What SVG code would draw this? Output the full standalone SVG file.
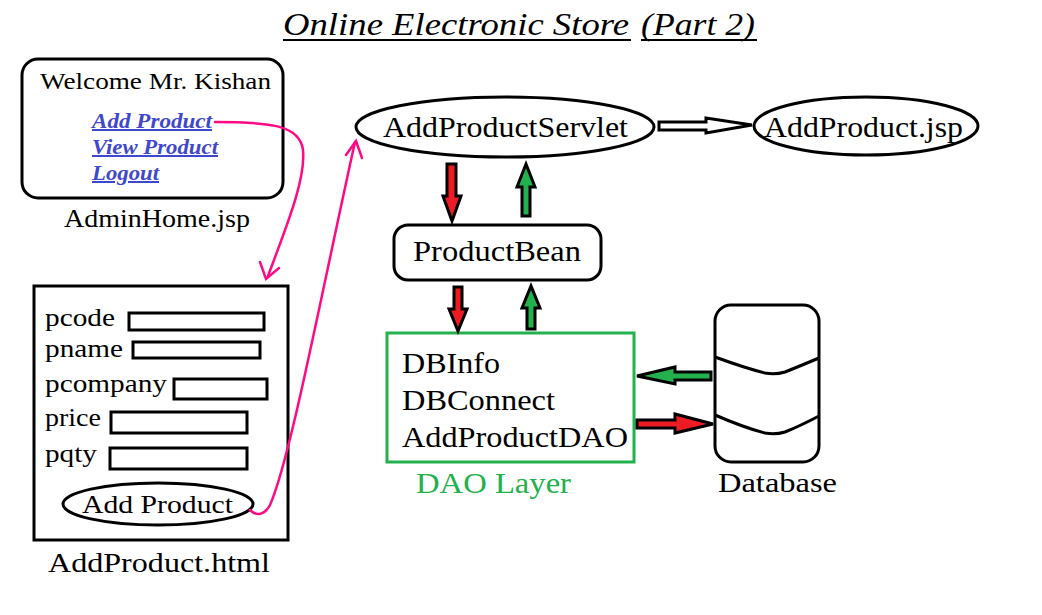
<svg xmlns="http://www.w3.org/2000/svg" width="1042" height="615" viewBox="0 0 1042 615">
<style>
text{font-family:'Liberation Serif','Times New Roman',serif;fill:#000}
.b{fill:none;stroke:#000;stroke-width:3}
.lk{font-size:20px;font-weight:bold;font-style:italic;fill:#3f48cc;text-decoration:underline}
.f{font-size:26px}
.big{font-size:29px}
.mag{fill:none;stroke:#ff0a84;stroke-width:2.5;stroke-linecap:round}
.red{fill:#ed1c24;stroke:#000;stroke-width:3;stroke-linejoin:miter}
.grn{fill:#22b14c;stroke:#000;stroke-width:3;stroke-linejoin:miter}
</style>
<rect width="1042" height="615" fill="#fff"/>
<g id="title">
<text x="283" y="35" font-size="32" font-style="italic" textLength="346" lengthAdjust="spacingAndGlyphs">Online Electronic Store</text>
<text x="641" y="35" font-size="32" font-style="italic" textLength="114" lengthAdjust="spacingAndGlyphs">(Part 2)</text>
<line x1="283" y1="40" x2="631" y2="40" stroke="#000" stroke-width="2"/>
<line x1="641" y1="40" x2="757" y2="40" stroke="#000" stroke-width="2"/>
</g>
<g id="adminhome">
<rect class="b" x="22" y="59" width="261" height="139" rx="16"/>
<text x="40" y="89" font-size="24" textLength="231" lengthAdjust="spacingAndGlyphs">Welcome Mr. Kishan</text>
<text class="lk" x="92" y="128" textLength="120" lengthAdjust="spacingAndGlyphs">Add Product</text>
<text class="lk" x="92" y="154" textLength="126" lengthAdjust="spacingAndGlyphs">View Product</text>
<text class="lk" x="92" y="180" textLength="67" lengthAdjust="spacingAndGlyphs">Logout</text>
<text x="64" y="227" font-size="26" textLength="186" lengthAdjust="spacingAndGlyphs">AdminHome.jsp</text>
</g>
<g id="addproducthtml">
<rect class="b" x="34" y="286" width="254" height="254"/>
<text class="f" x="45" y="326" textLength="70" lengthAdjust="spacingAndGlyphs">pcode</text>
<rect class="b" x="129" y="313" width="135" height="17"/>
<text class="f" x="45" y="357" textLength="78" lengthAdjust="spacingAndGlyphs">pname</text>
<rect class="b" x="133" y="342" width="127" height="16"/>
<text class="f" x="45" y="392" textLength="122" lengthAdjust="spacingAndGlyphs">pcompany</text>
<rect class="b" x="174" y="379" width="93" height="20"/>
<text class="f" x="45" y="426" textLength="56" lengthAdjust="spacingAndGlyphs">price</text>
<rect class="b" x="111" y="412" width="136" height="21"/>
<text class="f" x="45" y="462" textLength="52" lengthAdjust="spacingAndGlyphs">pqty</text>
<rect class="b" x="110" y="448" width="137" height="21"/>
<ellipse class="b" cx="158" cy="504" rx="95" ry="21"/>
<text x="82" y="513" font-size="26" textLength="151" lengthAdjust="spacingAndGlyphs">Add Product</text>
<text x="48" y="572" font-size="28" textLength="222" lengthAdjust="spacingAndGlyphs">AddProduct.html</text>
</g>
<g id="servlet">
<ellipse class="b" cx="505" cy="127" rx="149" ry="30"/>
<text x="383" y="137" class="big" textLength="245" lengthAdjust="spacingAndGlyphs">AddProductServlet</text>
</g>
<g id="addproductjsp">
<ellipse class="b" cx="866" cy="126" rx="112" ry="29"/>
<text x="764" y="137" class="big" textLength="199" lengthAdjust="spacingAndGlyphs">AddProduct.jsp</text>
</g>
<g id="productbean">
<rect class="b" x="394" y="225" width="207" height="55" rx="14"/>
<text x="413" y="261" class="big" textLength="168" lengthAdjust="spacingAndGlyphs">ProductBean</text>
</g>
<g id="dao">
<rect x="387" y="333" width="247" height="129" fill="none" stroke="#22b14c" stroke-width="3"/>
<text class="big" x="402" y="373" textLength="98" lengthAdjust="spacingAndGlyphs">DBInfo</text>
<text class="big" x="402" y="410" textLength="153" lengthAdjust="spacingAndGlyphs">DBConnect</text>
<text class="big" x="402" y="447" textLength="226" lengthAdjust="spacingAndGlyphs">AddProductDAO</text>
<text class="big" x="416" y="493" style="fill:#22b14c" textLength="155" lengthAdjust="spacingAndGlyphs">DAO Layer</text>
</g>
<g id="database">
<rect class="b" x="715" y="305" width="104" height="157" rx="16"/>
<path class="b" d="M715 357 Q745 368 765 373 Q775 375 785 372 Q800 366 819 358"/>
<path class="b" d="M715 415 Q745 428 765 433 Q775 435 785 432 Q800 426 819 416"/>
<text x="718" y="492" font-size="28" textLength="119" lengthAdjust="spacingAndGlyphs">Database</text>
</g>
<g id="connectors">
<path class="mag" d="M215 122 C270 122 300 125 303 150 C306 180 285 230 268 276"/>
<path class="mag" d="M260 262 L266 279 L279 268"/>
<path class="mag" d="M250 510 C256 516 264 516 270 505 C290 460 320 300 355 142"/>
<path class="mag" d="M346 155 L356 141 L362 158"/>
<path fill="#fff" stroke="#000" stroke-width="3" d="M659 122 L706 122 L706 118 L752 125 L706 133 L706 130 L659 130 Z"/>
<path class="red" d="M447 164 L456 164 L456 196 L461 196 L452 221 L443 196 L447 196 Z"/>
<path class="grn" d="M522 216 L530 216 L530 187 L535 187 L526 164 L517 187 L522 187 Z"/>
<path class="red" d="M454 287 L462 287 L462 309 L467 309 L458 331 L449 309 L454 309 Z"/>
<path class="grn" d="M527 329 L535 329 L535 308 L540 308 L531 286 L522 308 L527 308 Z"/>
<path class="grn" d="M711 372 L675 372 L675 367 L637 376 L675 384 L675 380 L711 380 Z"/>
<path class="red" d="M637 420 L675 420 L675 414 L713 424 L675 433 L675 428 L637 428 Z"/>
</g>
</svg>
